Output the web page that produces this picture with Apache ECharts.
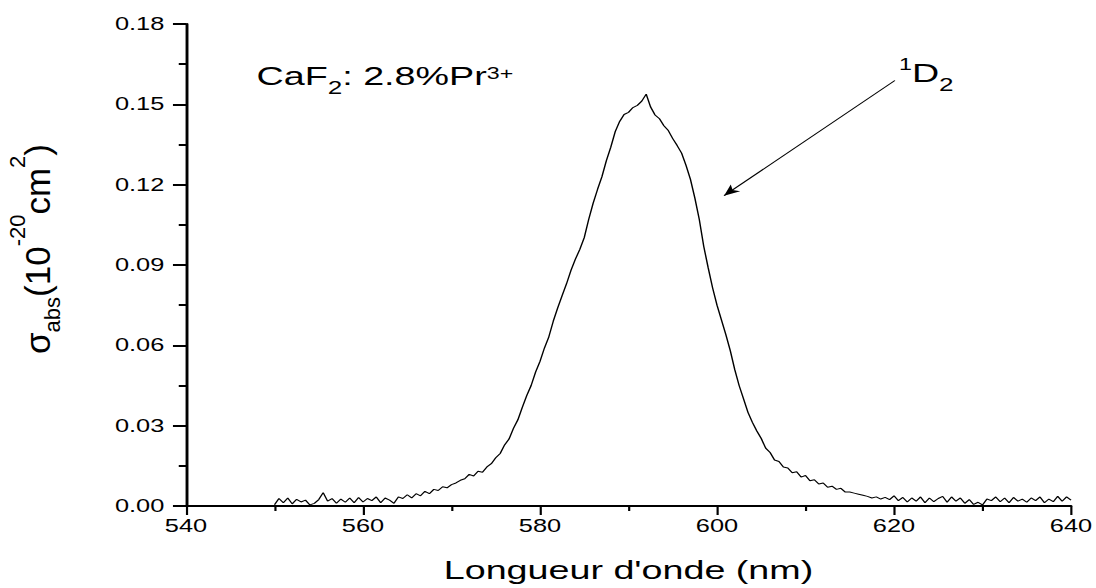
<!DOCTYPE html>
<html>
<head>
<meta charset="utf-8">
<script src="https://cdn.jsdelivr.net/npm/echarts@6/dist/echarts.min.js"></script>
<style>
html,body{margin:0;padding:0;background:#fff;}
#wrap{width:1096px;height:588px;overflow:hidden;position:relative;background:#fff;}
#chart{width:756px;height:588px;transform:scaleX(1.4497354);transform-origin:0 0;}
</style>
</head>
<body>
<div id="wrap"><div id="chart"></div></div>
<script>
// ---- data ----
const wavelengthNm = [
550,550.5,551,551.5,552,552.5,553,553.5,554,554.5,
555,555.5,556,556.5,557,557.5,558,558.5,559,559.5,
560,560.5,561,561.5,562,562.5,563,563.5,564,564.5,
565,565.5,566,566.5,567,567.5,568,568.5,569,569.5,
570,570.5,571,571.5,572,572.5,573,573.5,574,574.5,
575,575.5,576,576.5,577,577.5,578,578.5,579,579.5,
580,580.5,581,581.5,582,582.5,583,583.5,584,584.5,
585,585.5,586,586.5,587,587.5,588,588.5,589,589.5,
590,590.5,591,591.5,592,592.5,593,593.5,594,594.5,
595,595.5,596,596.5,597,597.5,598,598.5,599,599.5,
600,600.5,601,601.5,602,602.5,603,603.5,604,604.5,
605,605.5,606,606.5,607,607.5,608,608.5,609,609.5,
610,610.5,611,611.5,612,612.5,613,613.5,614,614.5,
615,615.5,616,616.5,617,617.5,618,618.5,619,619.5,
620,620.5,621,621.5,622,622.5,623,623.5,624,624.5,
625,625.5,626,626.5,627,627.5,628,628.5,629,629.5,
630,630.5,631,631.5,632,632.5,633,633.5,634,634.5,
635,635.5,636,636.5,637,637.5,638,638.5,639,639.5,
640
];
const sigmaAbs = [
0.0005,0.0028,0.0012,0.0030,0.0008,0.0025,0.0015,0.0022,0.0004,0.0010,
0.0024,0.0050,0.0018,0.0028,0.0010,0.0026,0.0014,0.0030,0.0012,0.0032,
0.0015,0.0028,0.0020,0.0034,0.0012,0.0030,0.0022,0.0010,0.0034,0.0028,
0.0042,0.0030,0.0046,0.0038,0.0055,0.0046,0.0062,0.0058,0.0072,0.0068,
0.0080,0.0086,0.0096,0.0102,0.0118,0.0112,0.0130,0.0126,0.0146,0.0158,
0.0180,0.0196,0.0228,0.0250,0.0290,0.0322,0.0368,0.0412,0.0450,0.0500,
0.0540,0.0590,0.0632,0.0690,0.0740,0.0786,0.0830,0.0880,0.0922,0.0958,
0.1002,0.1070,0.1130,0.1182,0.1230,0.1290,0.1340,0.1398,0.1436,0.1462,
0.1470,0.1488,0.1496,0.1512,0.1538,0.1490,0.1460,0.1446,0.1420,0.1402,
0.1372,0.1346,0.1318,0.1272,0.1220,0.1150,0.1070,0.0970,0.0890,0.0815,
0.0750,0.0695,0.0640,0.0580,0.0510,0.0450,0.0400,0.0350,0.0312,0.0280,
0.0252,0.0216,0.0200,0.0172,0.0166,0.0146,0.0142,0.0124,0.0128,0.0108,
0.0114,0.0094,0.0098,0.0082,0.0086,0.0070,0.0074,0.0062,0.0066,0.0052,
0.0052,0.0048,0.0044,0.0040,0.0036,0.0030,0.0034,0.0026,0.0032,0.0024,
0.0038,0.0020,0.0032,0.0015,0.0030,0.0018,0.0034,0.0012,0.0030,0.0016,
0.0028,0.0036,0.0014,0.0034,0.0018,0.0030,0.0010,0.0024,0.0006,0.0014,
0.0004,0.0026,0.0020,0.0034,0.0016,0.0030,0.0012,0.0032,0.0018,0.0026,
0.0014,0.0030,0.0020,0.0034,0.0012,0.0026,0.0016,0.0036,0.0018,0.0034,
0.0022
];
const xTicks = [540, 560, 580, 600, 620, 640];
const yTicks = [0.00, 0.03, 0.06, 0.09, 0.12, 0.15, 0.18];
const arrowFrom = [620.1, 0.1589];
const arrowTo = [600.8, 0.1159];
const xTitle = "Longueur d'onde (nm)";

// ---- layout (chart drawn in a 756px box, stretched horizontally to 1096px) ----
const S = 1096 / 756;
const FONT = "'Liberation Sans', Arial, Helvetica, sans-serif";

const chart = echarts.init(document.getElementById('chart'), null, {renderer: 'svg', width: 756, height: 588});
const seriesData = wavelengthNm.map((w, i) => [w, sigmaAbs[i]]);

chart.setOption({
  animation: false,
  backgroundColor: '#ffffff',
  grid: {left: 186 / S, right: 25 / S, top: 24, bottom: 82, containLabel: false, outerBoundsMode: 'none'},
  xAxis: {
    type: 'value',
    min: xTicks[0], max: xTicks[xTicks.length - 1], interval: xTicks[1] - xTicks[0],
    name: xTitle, nameLocation: 'middle', nameGap: 51,
    nameTextStyle: {fontFamily: FONT, fontSize: 26, color: '#000'},
    axisLine: {show: true, onZero: false, lineStyle: {color: '#000', width: 2}},
    axisTick: {show: true, inside: false, length: 9, lineStyle: {color: '#000', width: 1.5}},
    minorTick: {show: true, splitNumber: 2, length: 5, lineStyle: {color: '#000', width: 1.5}},
    axisLabel: {show: true, margin: 11, fontFamily: FONT, fontSize: 17.5, color: '#000'},
    splitLine: {show: false}, minorSplitLine: {show: false}
  },
  yAxis: {
    type: 'value',
    min: yTicks[0], max: yTicks[yTicks.length - 1], interval: yTicks[1] - yTicks[0],
    axisLine: {show: true, onZero: false, lineStyle: {color: '#000', width: 2}},
    axisTick: {show: true, inside: false, length: 9, lineStyle: {color: '#000', width: 2}},
    minorTick: {show: true, splitNumber: 2, length: 5, lineStyle: {color: '#000', width: 2}},
    axisLabel: {show: true, margin: 15, fontFamily: FONT, fontSize: 17.5, color: '#000',
      formatter: v => v.toFixed(2)},
    splitLine: {show: false}, minorSplitLine: {show: false}
  },
  series: [{
    type: 'line',
    data: seriesData,
    showSymbol: false,
    symbol: 'none',
    lineStyle: {color: '#000', width: 1},
    silent: true,
    markLine: {
      silent: true,
      animation: false,
      symbol: ['none', 'arrow'],
      symbolSize: [7, 11],
      label: {show: false},
      lineStyle: {color: '#000', width: 1, type: 'solid'},
      emphasis: {disabled: true},
      data: [[{coord: arrowFrom}, {coord: arrowTo}]]
    }
  }],
  graphic: [
    {
      type: 'text', x: 256.5 / S, y: 76,
      style: {
        text: '{m|CaF}{sub|2}{m|: 2.8%Pr}{sup|3+}',
        align: 'left', verticalAlign: 'middle', fill: '#000',
        rich: {
          m: {fontFamily: FONT, fontSize: 26, fill: '#000'},
          sub: {fontFamily: FONT, fontSize: 18, fill: '#000', padding: [24, 0, 0, 0]},
          sup: {fontFamily: FONT, fontSize: 16, fill: '#000', padding: [0, 0, 5, 0]}
        }
      }
    },
    {
      type: 'text', x: 899 / S, y: 73,
      style: {
        text: '{sup|1}{m|D}{sub|2}',
        align: 'left', verticalAlign: 'middle', fill: '#000',
        rich: {
          m: {fontFamily: FONT, fontSize: 26, fill: '#000'},
          sub: {fontFamily: FONT, fontSize: 18, fill: '#000', padding: [24, 0, 0, 0]},
          sup: {fontFamily: FONT, fontSize: 16, fill: '#000', padding: [0, 0, 18, 0]}
        }
      }
    },
    {
      // vertical title: local y (glyph height) maps to screen x, which is stretched by S afterwards
      type: 'text', x: 37 / S, y: 249, rotation: Math.PI / 2, scaleX: 1, scaleY: 1 / S,
      style: {
        text: '{m|σ}{sub|abs}{m|(10}{sup|-20}{m|cm}{sup|2}{m|)}',
        align: 'center', verticalAlign: 'middle', fill: '#000',
        rich: {
          m: {fontFamily: FONT, fontSize: 35, fill: '#000'},
          sub: {fontFamily: FONT, fontSize: 22, fill: '#000', padding: [30, 0, 0, 0]},
          sup: {fontFamily: FONT, fontSize: 22, fill: '#000', padding: [0, 0, 38, 0]}
        }
      }
    }
  ]
});
</script>
</body>
</html>
